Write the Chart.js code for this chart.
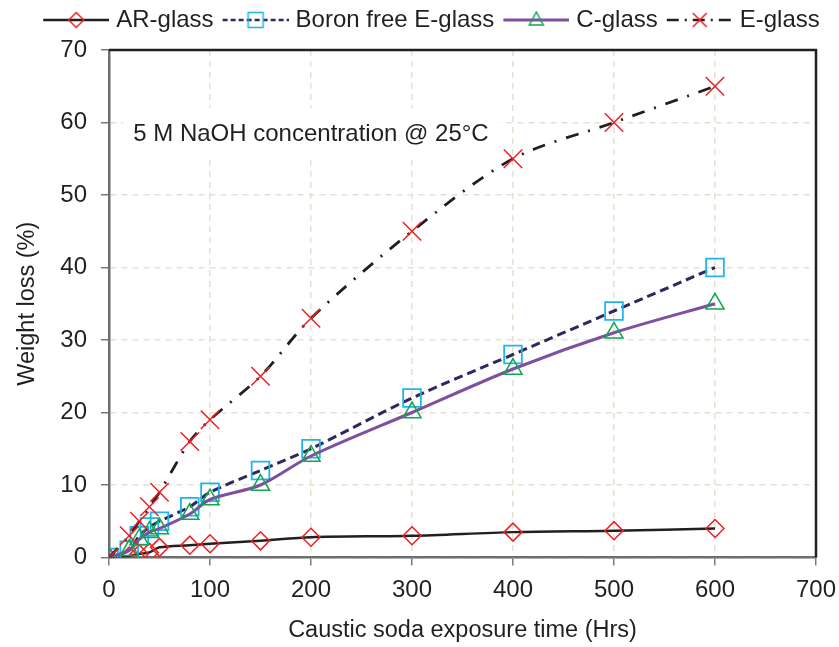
<!DOCTYPE html>
<html>
<head>
<meta charset="utf-8">
<script src="https://cdn.jsdelivr.net/npm/chart.js@4.4.1/dist/chart.umd.min.js"></script>
<style>
  html, body { margin: 0; padding: 0; background: #ffffff; }
  canvas { display: block; }
</style>
</head>
<body>
<canvas id="chart" width="839" height="647"></canvas>
<script>
// ---------- data ----------
const exposureHours   = [0, 20, 30, 40, 50, 80, 100, 150, 200, 300, 400, 500, 600];
const arGlass         = [0, 0.2, 0.5, 0.7, 1.4, 1.7, 1.9, 2.3, 2.8, 3.0, 3.5, 3.7, 4.0];
const boronFreeEGlass = [0, 1.0, 3.0, 4.2, 5.0, 7.0, 9.0, 12.0, 15.0, 22.0, 28.0, 34.0, 40.0];
const cGlass          = [0, 1.0, 2.5, 3.5, 4.0, 6.0, 8.0, 10.0, 14.0, 20.0, 26.0, 31.0, 35.0];
const eGlass          = [0, 3.0, 5.0, 7.0, 9.0, 16.0, 19.0, 25.0, 33.0, 45.0, 55.0, 60.0, 65.0];

const seriesNames = ['AR-glass', 'Boron free E-glass', 'C-glass', 'E-glass'];
const xTickValues = [0, 100, 200, 300, 400, 500, 600, 700];
const yTickValues = [0, 10, 20, 30, 40, 50, 60, 70];
const xAxisTitle  = 'Caustic soda exposure time (Hrs)';
const yAxisTitle  = 'Weight loss (%)';
const noteText    = '5 M NaOH concentration @ 25°C';
const noteAnchor  = [24, 58.4];   // data coords (hours, %) of the note's left/middle

// ---------- styles ----------
const FONT = "'Liberation Sans', Arial, Helvetica, sans-serif";
const INK = '#231f20';
const RED = '#ed2024';
const CYAN = '#1fb4ea';
const GREEN = '#12a650';
const NAVY = '#2b2960';
const PURPLE = '#7f4fa0';
const E_DASH = [13, 10, 2, 10];
const B_DASH = [9, 5];

function pts(vals) { return exposureHours.map((h, i) => ({ x: h, y: vals[i] })); }

// legend swatches: line sample with marker in the middle
function swatch(drawLine, drawMarker) {
  const c = document.createElement('canvas');
  c.width = 74; c.height = 30;
  const g = c.getContext('2d');
  g.lineCap = 'butt';
  drawLine(g, 8, 74, 15);
  drawMarker(g, 41, 15);
  return c;
}
function lineSeg(color, width, dash) {
  return (g, x1, x2, y) => {
    g.save(); g.strokeStyle = color; g.lineWidth = width; g.setLineDash(dash);
    g.beginPath(); g.moveTo(x1, y); g.lineTo(x2, y); g.stroke(); g.restore();
  };
}
function mk(color, pathFn) {
  return (g, x, y) => {
    g.save(); g.strokeStyle = color; g.lineWidth = 1.5; g.fillStyle = '#ffffff';
    g.beginPath(); pathFn(g, x, y); g.closePath(); g.stroke(); g.restore();
  };
}
const swatches = [
  swatch(lineSeg(INK, 2.5, []), mk(RED, (g, x, y) => { g.moveTo(x, y - 7.5); g.lineTo(x + 7.5, y); g.lineTo(x, y + 7.5); g.lineTo(x - 7.5, y); })),
  swatch(lineSeg(NAVY, 2.5, [5, 3]), mk(CYAN, (g, x, y) => { g.rect(x - 7.5, y - 7.5, 15, 15); })),
  swatch(lineSeg(PURPLE, 3, []), mk(GREEN, (g, x, y) => { g.moveTo(x, y - 8); g.lineTo(x + 7, y + 5); g.lineTo(x - 7, y + 5); })),
  swatch(lineSeg(INK, 2.5, [12, 6, 2, 6]), (g, x, y) => {
    g.save(); g.strokeStyle = RED; g.lineWidth = 1.5; g.beginPath();
    g.moveTo(x - 7, y - 7); g.lineTo(x + 7, y + 7); g.moveTo(x + 7, y - 7); g.lineTo(x - 7, y + 7);
    g.stroke(); g.restore();
  })
];

const TOP_PAD = 2;
const LEGEND_BAND = 48;

const decorPlugin = {
  id: 'decor',
  beforeLayout(chart) {
    const lg = chart.legend;
    if (lg && !lg._bandPatched) {
      const orig = lg.fit;
      lg.fit = function () {
        this.maxWidth = 2000;            // keep all four entries on one row
        orig.call(this);
        this.height = LEGEND_BAND;
      };
      lg._bandPatched = true;
    }
  },
  afterLayout(chart) {
    const lg = chart.legend;
    if (lg) {                           // legend spans the whole canvas width
      lg.left = 21; lg.right = chart.width; lg.width = lg.right - lg.left;
    }
  },
  beforeDatasetsDraw(chart) {
    const { ctx, chartArea: a, scales } = chart;
    ctx.save();
    // top and right frame
    ctx.strokeStyle = INK; ctx.lineWidth = 2.5; ctx.setLineDash([]);
    ctx.beginPath();
    ctx.moveTo(a.left, a.top); ctx.lineTo(a.right, a.top); ctx.lineTo(a.right, a.bottom);
    ctx.stroke();
    // note box
    ctx.font = '24px ' + FONT;
    const w = ctx.measureText(noteText).width;
    const x = scales.x.getPixelForValue(noteAnchor[0]);
    const y = scales.y.getPixelForValue(noteAnchor[1]);
    ctx.fillStyle = '#ffffff';
    ctx.fillRect(x - 10, y - 26, w + 22, 52);
    ctx.fillStyle = INK; ctx.textBaseline = 'middle'; ctx.textAlign = 'left';
    ctx.fillText(noteText, x, y);
    ctx.restore();
  }
};

const common = { showLine: true, pointBackgroundColor: 'rgba(0,0,0,0)', pointBorderWidth: 1.5, tension: 0.3, pointHoverRadius: 0 };

new Chart(document.getElementById('chart'), {
  type: 'scatter',
  data: {
    datasets: [
      Object.assign({}, common, {
        label: seriesNames[0], data: pts(arGlass), order: 3,
        borderColor: INK, borderWidth: 2.5,
        pointStyle: 'rectRot', pointRadius: 9, pointBorderColor: RED
      }),
      Object.assign({}, common, {
        label: seriesNames[1], data: pts(boronFreeEGlass), order: 2,
        borderColor: NAVY, borderWidth: 3, borderDash: B_DASH,
        pointStyle: 'rect', pointRadius: 12.5, pointBorderColor: CYAN, pointBorderWidth: 1.8
      }),
      Object.assign({}, common, {
        label: seriesNames[2], data: pts(cGlass), order: 1,
        borderColor: PURPLE, borderWidth: 3,
        pointStyle: 'triangle', pointRadius: 10.5, pointBorderColor: GREEN
      }),
      Object.assign({}, common, {
        label: seriesNames[3], data: pts(eGlass), order: 0,
        borderColor: INK, borderWidth: 2.8, borderDash: E_DASH,
        pointStyle: 'crossRot', pointRadius: 13, pointBorderColor: RED
      })
    ]
  },
  options: {
    responsive: false,
    animation: false,
    devicePixelRatio: 1,
    layout: { padding: { left: 0, right: 23, top: TOP_PAD, bottom: 0 } },
    plugins: {
      tooltip: { enabled: false },
      legend: {
        display: true,
        position: 'top',
        align: 'center',
        labels: {
          usePointStyle: true,
          pointStyleWidth: 64,
          padding: 6,
          color: INK,
          font: { family: FONT, size: 24 },
          generateLabels(chart) {
            return chart.data.datasets.map((ds, i) => ({
              text: ds.label, datasetIndex: i, pointStyle: swatches[i], rotation: 0,
              fillStyle: 'rgba(0,0,0,0)', strokeStyle: 'rgba(0,0,0,0)', lineWidth: 0,
              hidden: false, fontColor: INK
            }));
          }
        }
      }
    },
    scales: {
      x: {
        type: 'linear',
        min: xTickValues[0], max: xTickValues[xTickValues.length - 1],
        afterBuildTicks(scale) { scale.ticks = xTickValues.map(v => ({ value: v })); },
        afterFit(scale) { scale.height = 89.5; scale.paddingLeft = 0; scale.paddingRight = 0; },
        ticks: { color: INK, font: { family: FONT, size: 24 }, padding: 10, maxRotation: 0, autoSkip: false },
        grid: { color: '#e4e2d2', lineWidth: 1.5, tickColor: '#7a7a7a', tickLength: 8, tickWidth: 1.5, tickBorderDash: [] },
        border: { display: true, color: '#6d6e71', width: 2.5, dash: [6, 5] },
        title: { display: true, text: xAxisTitle, color: INK, font: { family: FONT, size: 23.5 }, padding: { top: 0, bottom: 2 } }
      },
      y: {
        type: 'linear',
        min: yTickValues[0], max: yTickValues[yTickValues.length - 1],
        afterBuildTicks(scale) { scale.ticks = yTickValues.map(v => ({ value: v })); },
        afterFit(scale) { scale.width = 109; },
        ticks: { color: INK, font: { family: FONT, size: 24 }, padding: 14, autoSkip: false },
        grid: { color: '#e4e2d2', lineWidth: 1.5, tickColor: '#7a7a7a', tickLength: 8, tickWidth: 1.5, tickBorderDash: [] },
        border: { display: true, color: '#6d6e71', width: 2.5, dash: [6, 5] },
        title: { display: true, text: yAxisTitle, color: INK, font: { family: FONT, size: 23.5 }, padding: { top: 13, bottom: 0 } }
      }
    }
  },
  plugins: [decorPlugin]
});
</script>
</body>
</html>
